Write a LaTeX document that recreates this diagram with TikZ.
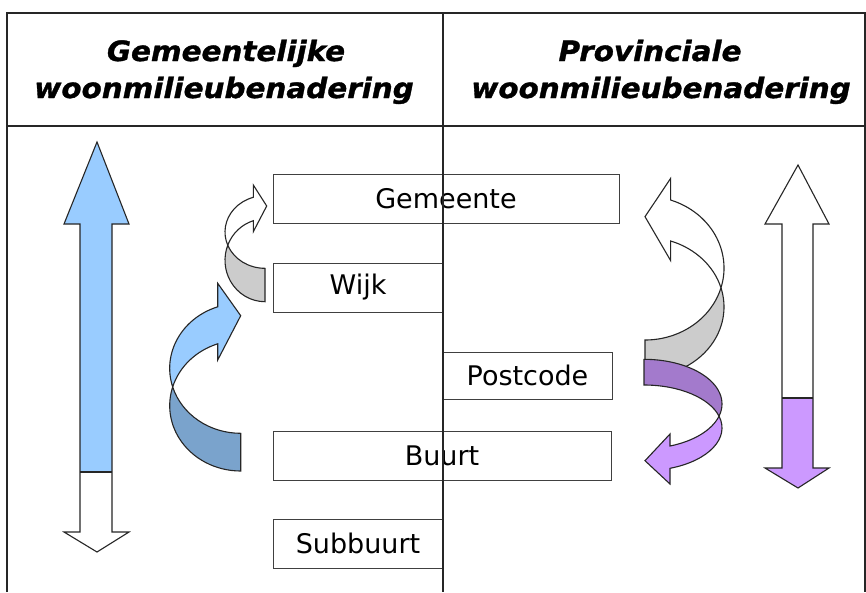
\documentclass[tikz,border=0pt]{standalone}
\usepackage{fontspec}
\setmainfont{DejaVu Sans}
\newfontfamily\hdfont[FakeStretch=1.05, FakeBold=1.2]{DejaVu Sans}
\definecolor{lblue}{HTML}{99CCFF}
\definecolor{dblue}{HTML}{7AA3CC}
\definecolor{lgray}{HTML}{CCCCCC}
\definecolor{lpurp}{HTML}{CC99FF}
\definecolor{dpurp}{HTML}{A37ACC}
\tikzset{
  tline/.style={line width=1.8pt, draw=black!85},
  lvlbox/.style={draw=black!75, line width=1pt, fill=white, inner sep=0pt, font=\fontsize{27}{32}\selectfont},
  shp/.style={draw=black!85, line width=1.1pt, line join=miter},
  head/.style={inner sep=0pt, anchor=base, font=\hdfont\bfseries\itshape\fontsize{28}{32}\selectfont}
}
\begin{document}
\begin{tikzpicture}[x=1pt, y=1pt, yscale=-1]
\useasboundingbox (0,0) rectangle (866,592);
\fill[white] (0,0) rectangle (866,592);

% headings
\node[head] (h1a) at (226,61) {Gemeentelijke};
\node[head] (h1b) at (224,98) {woonmilieubenadering};
\node[head] (h2a) at (650,61) {Provinciale};
\node[head] (h2b) at (661,98) {woonmilieubenadering};

% level boxes
\node[lvlbox, minimum width=346pt, minimum height=49pt] (gem) at (446,198.5) {Gemeente};
\node[lvlbox, minimum width=170pt, minimum height=49pt] (wijk) at (358,287.5) {Wijk};
\node[lvlbox, minimum width=169pt, minimum height=47pt] (pc) at (527.5,375.5) {Postcode};
\node[lvlbox, minimum width=338pt, minimum height=49pt] (buurt) at (442,455.5) {Buurt};
\node[lvlbox, minimum width=170pt, minimum height=49pt] (sub) at (358,543.5) {Subbuurt};

% table lines
\draw[tline] (7,592) -- (7,13) -- (866,13);
\draw[tline] (865,13) -- (865,592);
\draw[tline] (7,126) -- (866,126);
\draw[tline] (443,13) -- (443,592);

% left vertical double arrow
\fill[lblue] (97,142) -- (129,224) -- (112,224) -- (112,472) -- (80,472) -- (80,224) -- (64,224) -- cycle;
\draw[shp] (97,142) -- (129,224) -- (112,224) -- (112,532) -- (129,532) -- (97,552) -- (64,532) -- (80,532) -- (80,224) -- (64,224) -- cycle;
\draw[shp] (80,472) -- (112,472);

% right vertical double arrow
\fill[lpurp] (782,398) -- (813,398) -- (813,468) -- (829,468) -- (798,488) -- (765,468) -- (782,468) -- cycle;
\draw[shp] (798,165) -- (829,224) -- (813,224) -- (813,468) -- (829,468) -- (798,488) -- (765,468) -- (782,468) -- (782,224) -- (765,224) -- cycle;
\draw[shp] (782,398) -- (813,398);

% left lower curved arrow (blue)
\filldraw[shp, fill=dblue] (172.67,386.9) arc[start angle=163.37, end angle=90, x radius=71, y radius=65]
  -- (240.7,471) arc[start angle=90, end angle=196.63, x radius=71, y radius=65.36] -- cycle;
\filldraw[shp, fill=lblue] (172.67,386.9) arc[start angle=163.37, end angle=251.1, x radius=71, y radius=65]
  -- (217.7,283.3) -- (240.7,315.7) -- (217.7,360) -- (217.7,343.8)
  arc[start angle=251.1, end angle=196.63, x radius=71, y radius=65.36] -- cycle;

% left upper curved arrow (white/gray)
\filldraw[shp, fill=lgray] (227.74,245.2) arc[start angle=158.68, end angle=90, x radius=40, y radius=36.3]
  -- (265,301.7) arc[start angle=90, end angle=201.32, x radius=40, y radius=41.4] -- cycle;
\filldraw[shp, fill=white] (227.74,245.2) arc[start angle=158.68, end angle=253, x radius=40, y radius=36.3]
  -- (253.3,185) -- (266.7,206) -- (253.3,231.7) -- (253.3,220.71)
  arc[start angle=253, end angle=201.32, x radius=40, y radius=41.4] -- cycle;

% right upper curved arrow (white/gray)
\filldraw[shp, fill=lgray] (720.97,287.8) arc[start angle=15.92, end angle=90, x radius=79, y radius=71.93]
  -- (645,376.66) arc[start angle=90, end angle=-15.92, x radius=79, y radius=69.73] -- cycle;
\filldraw[shp, fill=white] (720.97,287.8) arc[start angle=15.92, end angle=-71.04, x radius=79, y radius=71.93]
  -- (670.67,178.33) -- (645,216.67) -- (670.67,260.67) -- (670.67,240.98)
  arc[start angle=-71.04, end angle=-15.92, x radius=79, y radius=69.73] -- cycle;

% right lower curved arrow (purple)
\filldraw[shp, fill=dpurp] (719.03,416.13) arc[start angle=15.86, end angle=-90, x radius=78, y radius=44.63]
  -- (644,385) arc[start angle=-90, end angle=-15.86, x radius=78, y radius=42.88] -- cycle;
\filldraw[shp, fill=lpurp] (719.03,416.13) arc[start angle=15.86, end angle=70.53, x radius=78, y radius=44.63]
  -- (670,434) -- (645,460.7) -- (670,484) -- (670,468.31)
  arc[start angle=70.53, end angle=-15.86, x radius=78, y radius=42.88] -- cycle;
\end{tikzpicture}
\end{document}
